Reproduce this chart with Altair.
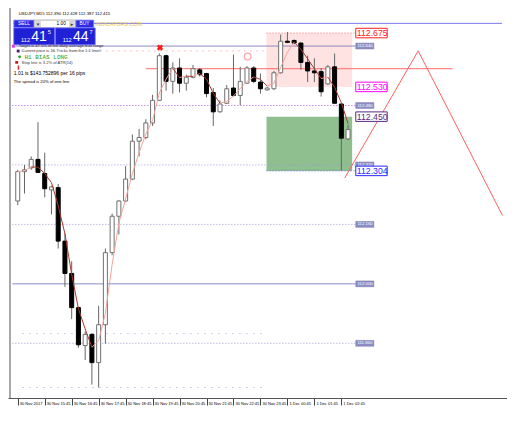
import altair as alt
import pandas as pd

# ---------------- data ----------------
opens = [112.223, 112.302, 112.312, 112.335, 112.297, 112.253, 112.259, 112.115, 112.028, 111.936,
         111.834, 111.864, 111.788, 111.890, 112.084, 112.182, 112.223, 112.282, 112.384, 112.394,
         112.433, 112.494, 112.614, 112.545, 112.581, 112.540, 112.556, 112.576, 112.566, 112.515,
         112.463, 112.486, 112.527, 112.507, 112.540, 112.581, 112.543, 112.522, 112.525, 112.568,
         112.653, 112.655, 112.648, 112.596, 112.573, 112.571, 112.538, 112.584, 112.484, 112.390]
highs = [112.307, 112.320, 112.343, 112.435, 112.353, 112.264, 112.269, 112.136, 112.061, 111.939,
         111.872, 111.867, 111.941, 112.095, 112.189, 112.225, 112.317, 112.402, 112.417, 112.443,
         112.509, 112.620, 112.617, 112.596, 112.607, 112.563, 112.589, 112.581, 112.568, 112.527,
         112.494, 112.535, 112.617, 112.584, 112.586, 112.586, 112.566, 112.530, 112.573, 112.671,
         112.678, 112.658, 112.650, 112.614, 112.607, 112.581, 112.589, 112.620, 112.486, 112.428]
lows = [112.212, 112.243, 112.307, 112.300, 112.233, 112.187, 112.095, 111.992, 111.905, 111.828,
        111.795, 111.729, 111.721, 111.839, 112.077, 112.133, 112.220, 112.279, 112.343, 112.389,
        112.425, 112.492, 112.520, 112.512, 112.515, 112.520, 112.553, 112.558, 112.502, 112.425,
        112.461, 112.484, 112.504, 112.481, 112.538, 112.540, 112.512, 112.520, 112.522, 112.566,
        112.648, 112.645, 112.576, 112.543, 112.543, 112.504, 112.536, 112.486, 112.305, 112.387]
closes = [112.302, 112.307, 112.335, 112.300, 112.256, 112.261, 112.115, 112.028, 111.936, 111.836,
          111.864, 111.788, 111.890, 112.084, 112.182, 112.223, 112.282, 112.384, 112.394, 112.433,
          112.494, 112.614, 112.545, 112.581, 112.540, 112.556, 112.579, 112.563, 112.512, 112.463,
          112.484, 112.525, 112.507, 112.545, 112.581, 112.545, 112.525, 112.527, 112.568, 112.653,
          112.650, 112.648, 112.596, 112.573, 112.568, 112.517, 112.584, 112.486, 112.392, 112.415]
bar_index = list(range(len(opens)))

time_tick_index = [0, 4, 8, 12, 16, 20, 24, 28, 32, 36, 40, 44, 48]
time_tick_labels = ["30 Nov 2017", "30 Nov 15:45", "30 Nov 16:45", "30 Nov 17:45",
                    "30 Nov 18:45", "30 Nov 19:45", "30 Nov 20:45", "30 Nov 21:45",
                    "30 Nov 22:45", "30 Nov 23:45", "1 Dec 00:45", "1 Dec 01:45", "1 Dec 02:45"]

grid_solid_levels = [112.640, 112.000]
grid_dotted_levels = [112.320, 112.160, 111.840]
grid_magenta_level = [112.480]
grid_levels = [112.640, 112.480, 112.320, 112.160, 112.000, 111.840]
grid_level_labels = ["112.640", "112.480", "112.320", "112.160", "112.000", "111.840"]

zone_levels = [112.675, 112.530, 112.450, 112.304]
zone_level_labels = ["112.675", "112.530", "112.450", "112.304"]
sell_zone = [112.675, 112.530]
buy_zone = [112.450, 112.304]
zone_span = [36.9, 49.6]

top_line_level = [112.701]
resistance_level = [112.579]
resistance_span = [19.0, 64.5]
prev_high_level = [112.627]
prev_high_span = [0.7, 36.9]
sparse_levels = [111.866, 111.721]
sparse_span = [0.7, 36.2]

zigzag_index = [48.5, 59.4, 71.9]
zigzag_price = [112.285, 112.627, 112.184]

signal_index = [21.1]
signal_price = [112.636]
alert_index = [34.1]
alert_price = [112.612]

quote_line = "USDJPY,M15  112.390 112.428 112.387 112.415"
lot_size = "1.00"
bid_parts = ["112", "41", "5"]
ask_parts = ["112", "44", "7"]
info_lines = ["Target is 47.5% of the daily average true range",
              "Current price is 16.7 ticks from the 1:1 level",
              "H1 BIAS LONG",
              "Stop line is 3.2% of ATR(14)",
              "1.01 is $143.752896 per 16 pips",
              "The spread is 20% of one line"]

# ---------------- geometry ----------------
FX = 499 / 515
FY = 400 / 421
W, HP = 499, 390
X_DOM = [-0.704, 71.83]
Y_DOM = [111.6928, 112.7424]
X_LEFT, LABEL_X, LABEL_X2, BIG_X2 = -0.8, 50.14, 52.82, 54.8

xs = alt.Scale(domain=X_DOM, nice=False, zero=False)
ys = alt.Scale(domain=Y_DOM, nice=False, zero=False)
label_expr = "[" + ",".join("'%s'" % s for s in time_tick_labels) + "][round(datum.value/4)]"
AX = alt.Axis(values=time_tick_index, labelExpr=label_expr, labelAlign="left",
              labelBaseline="middle", labelFontSize=4.0, labelFont="Liberation Sans",
              labelColor="#000000", tickSize=7, tickColor="#444444", domainColor="#555555",
              labelPadding=-2, labelOffset=1.5, grid=False, title=None,
              labelOverlap=False, labelBound=False, labelFlush=False)


def X(f):
    return alt.X(f, type="quantitative", scale=xs, axis=AX)


def Y(f):
    return alt.Y(f, type="quantitative", scale=ys, axis=None)


def XD(v):
    return alt.XDatum(v, type="quantitative", scale=xs, axis=AX)


ONE = pd.DataFrame({"k": [0]})


def px_rect(x1, y1, x2, y2, fill, stroke=None, sw=1.0):
    kw = dict(fill=fill, strokeWidth=0)
    if stroke:
        kw.update(stroke=stroke, strokeWidth=sw)
    return alt.Chart(ONE).mark_rect(**kw).encode(
        x=alt.value(x1 * FX), x2=alt.value(x2 * FX), y=alt.value(y1 * FY), y2=alt.value(y2 * FY))


def px_text(x, y, text, size, color, font="Liberation Sans", align="left", weight="normal"):
    return alt.Chart(ONE).mark_text(fontSize=size, color=color, font=font, align=align,
                                    baseline="middle", fontWeight=weight).encode(
        x=alt.value(x * FX), y=alt.value(y * FY), text=alt.value(text))


candles = pd.DataFrame({"idx": bar_index, "open": opens, "high": highs, "low": lows, "close": closes})
layers = []

# zones
sell_df = pd.DataFrame({"a": [zone_span[0]], "b": [zone_span[1]], "top": [sell_zone[0]], "bot": [sell_zone[1]]})
buy_df = pd.DataFrame({"a": [zone_span[0]], "b": [zone_span[1]], "top": [buy_zone[0]], "bot": [buy_zone[1]]})
layers.append(alt.Chart(sell_df).mark_rect(fill="#ffe3e3").encode(
    x=X("a"), x2=alt.X2("b"), y=Y("top"), y2=alt.Y2("bot")))
layers.append(alt.Chart(buy_df).mark_rect(fill="#8fbf8f").encode(
    x=X("a"), x2=alt.X2("b"), y=Y("top"), y2=alt.Y2("bot")))

# horizontal lines
layers.append(alt.Chart(pd.DataFrame({"p": top_line_level})).mark_rule(color="#7c7cf0", strokeWidth=1).encode(
    x=XD(X_DOM[0]), x2=alt.X2Datum(X_DOM[1]), y=Y("p")))
layers.append(alt.Chart(pd.DataFrame({"p": grid_solid_levels})).mark_rule(color="#8a8ac2", strokeWidth=1).encode(
    x=XD(X_LEFT), x2=alt.X2Datum(LABEL_X), y=Y("p")))
layers.append(alt.Chart(pd.DataFrame({"p": grid_dotted_levels})).mark_rule(
    color="#9c9cd8", strokeWidth=1, strokeDash=[1, 2]).encode(
    x=XD(X_LEFT), x2=alt.X2Datum(LABEL_X), y=Y("p")))
layers.append(alt.Chart(pd.DataFrame({"p": grid_magenta_level})).mark_rule(
    color="#b45ad8", strokeWidth=1, strokeDash=[1, 2]).encode(
    x=XD(X_LEFT), x2=alt.X2Datum(LABEL_X), y=Y("p")))
layers.append(alt.Chart(pd.DataFrame({"p": prev_high_level})).mark_rule(
    color="#ff8a8a", strokeWidth=1, strokeDash=[1, 5]).encode(
    x=XD(prev_high_span[0]), x2=alt.X2Datum(prev_high_span[1]), y=Y("p")))
layers.append(alt.Chart(pd.DataFrame({"p": sparse_levels})).mark_rule(
    color="#9c9ce0", strokeWidth=1, strokeDash=[1, 6]).encode(
    x=XD(sparse_span[0]), x2=alt.X2Datum(sparse_span[1]), y=Y("p")))
layers.append(alt.Chart(pd.DataFrame({"p": [sell_zone[0]]})).mark_rule(
    color="#ff7070", strokeWidth=1, strokeDash=[1, 2]).encode(
    x=XD(zone_span[0]), x2=alt.X2Datum(LABEL_X), y=Y("p")))
layers.append(alt.Chart(pd.DataFrame({"p": [buy_zone[1]]})).mark_rule(
    color="#6a6aff", strokeWidth=1, strokeDash=[1, 2]).encode(
    x=XD(zone_span[0]), x2=alt.X2Datum(LABEL_X), y=Y("p")))
layers.append(alt.Chart(pd.DataFrame({"p": resistance_level})).mark_rule(color="#ff6a6a", strokeWidth=1).encode(
    x=XD(resistance_span[0]), x2=alt.X2Datum(resistance_span[1]), y=Y("p")))

# candles
layers.append(alt.Chart(candles).mark_rule(color="#666666", strokeWidth=1).encode(
    x=X("idx"), y=Y("low"), y2=alt.Y2("high")))
layers.append(alt.Chart(candles).mark_bar(size=4, strokeWidth=1).encode(
    x=X("idx"), y=Y("open"), y2=alt.Y2("close"),
    fill=alt.condition("datum.close >= datum.open", alt.value("#ffffff"), alt.value("#000000")),
    stroke=alt.condition("datum.close >= datum.open", alt.value("#707070"), alt.value("#000000"))))

# moving average (computed by Vega-Lite from the closes), coloured by slope
layers.append(alt.Chart(candles).transform_window(
    ma="mean(close)", frame=[-2, 0], sort=[alt.SortField("idx")]
).transform_window(
    prev_ma="lag(ma)", sort=[alt.SortField("idx")]
).transform_filter("isValid(datum.prev_ma)").transform_calculate(
    pidx="datum.idx - 1"
).mark_rule(strokeWidth=1).encode(
    x=X("pidx"), x2=alt.X2("idx"), y=Y("prev_ma"), y2=alt.Y2("ma"),
    color=alt.condition("datum.ma >= datum.prev_ma", alt.value("#f4a49c"), alt.value("#a83a30"))))

# zigzag
layers.append(alt.Chart(pd.DataFrame({"i": zigzag_index, "p": zigzag_price})).mark_line(
    color="#ff6060", strokeWidth=1).encode(x=X("i"), y=Y("p")))

# signal marks
layers.append(alt.Chart(pd.DataFrame({"i": signal_index, "p": signal_price})).mark_point(
    shape="cross", angle=45, filled=True, size=40, color="#ff1a1a", opacity=1).encode(x=X("i"), y=Y("p")))
layers.append(alt.Chart(pd.DataFrame({"i": alert_index, "p": alert_price})).mark_point(
    shape="circle", filled=False, size=45, color="#ff8080", strokeWidth=1.2).encode(x=X("i"), y=Y("p")))

# small level labels
lvl = pd.DataFrame({"p": grid_levels, "t": grid_level_labels})
layers.append(alt.Chart(lvl).transform_calculate(top="datum.p + 0.0078", bot="datum.p - 0.0078").mark_rect(
    fill="#8e8ec4", stroke="#7070a8", strokeWidth=0.5).encode(
    x=XD(LABEL_X), x2=alt.X2Datum(LABEL_X2), y=Y("top"), y2=alt.Y2("bot")))
layers.append(alt.Chart(lvl).mark_text(fontSize=4.3, color="#ffffff", align="left", baseline="middle",
                                       font="Liberation Sans").encode(
    x=XD(LABEL_X + 0.25), y=Y("p"), text="t:N"))

# zone price labels
zone_colors = ["#ff2020", "#ff00ff", "#5a2a80", "#2a2aff"]
for p, t, c in zip(zone_levels, zone_level_labels, zone_colors):
    d = pd.DataFrame({"p": [p], "t": [t]})
    layers.append(alt.Chart(d).transform_calculate(top="datum.p + 0.0128", bot="datum.p - 0.0128").mark_rect(
        fill="#ffffff", stroke=c, strokeWidth=1).encode(
        x=XD(LABEL_X), x2=alt.X2Datum(BIG_X2), y=Y("top"), y2=alt.Y2("bot")))
    layers.append(alt.Chart(d).mark_text(fontSize=8.7, color=c, align="left", baseline="middle",
                                         font="Liberation Sans").encode(
        x=XD(LABEL_X + 0.15), y=Y("p"), text="t:N"))

# window frame at left
layers.append(alt.Chart(ONE).mark_rule(color="#a8a8a8", strokeWidth=2).encode(
    x=alt.value(2), y=alt.value(0), y2=alt.value(HP)))

# trading panel (screen overlay)
layers.append(px_text(11, 6.5, quote_line, 4.3, "#000000"))
layers.append(px_rect(6, 12.7, 27, 20.7, "#2c2ce0", "#8c8cff", 0.8))
layers.append(px_text(16.5, 16.8, "SELL", 4.8, "#ffffff", align="center"))
layers.append(px_rect(27, 12.7, 70, 20.7, "#ffffff", "#a0a0a0", 0.8))
layers.append(px_rect(28, 13.5, 34, 20, "#d8d8d8"))
layers.append(px_rect(63, 13.5, 69, 20, "#d8d8d8"))
layers.append(px_text(31, 16.8, "\u25be", 5, "#333333", font="DejaVu Sans", align="center"))
layers.append(px_text(66, 16.8, "\u25b8", 5, "#333333", font="DejaVu Sans", align="center"))
layers.append(px_text(55, 16.8, lot_size, 4.8, "#000000", align="center"))
layers.append(px_rect(70, 12.7, 88.5, 20.7, "#2c2ce0", "#8c8cff", 0.8))
layers.append(px_text(79, 16.8, "BUY", 4.8, "#ffffff", align="center"))
layers.append(px_text(90, 16.5, "INDICATORS.COM", 5.4, "#e8c040"))
for x0, x1, parts in [(6, 48, bid_parts), (49, 90, ask_parts)]:
    layers.append(px_rect(x0, 21, x1, 38.7, "#2020d6", "#6a6aff", 0.8))
    layers.append(px_text(x0 + 7.5, 33.5, parts[0], 5.6, "#ffffff"))
    layers.append(px_text(x0 + 18, 30.0, parts[1], 14, "#ffffff"))
    layers.append(px_text(x0 + 35, 24.8, parts[2], 5.6, "#ffffff"))

layers.append(px_rect(4, 38.8, 7, 41.8, "#e040e0"))
layers.append(px_text(11, 40.3, info_lines[0], 4.1, "#3a2a3a"))
layers.append(px_rect(9, 43.8, 12, 46.8, "#502070"))
layers.append(px_text(14, 45.4, info_lines[1], 4.1, "#3a3a3a"))
layers.append(alt.Chart(ONE).mark_point(shape="circle", filled=True, size=8, color="#20a020", opacity=1).encode(
    x=alt.value(12 * FX), y=alt.value(51.4 * FY)))
layers.append(px_text(17, 51.4, info_lines[2], 6.0, "#22a022", font="Liberation Mono"))
layers.append(px_rect(7.5, 55.8, 10.5, 58.8, "#c02020"))
layers.append(px_text(14, 57.5, info_lines[3], 4.1, "#3a3a3a"))
layers.append(px_rect(10, 60.5, 11.5, 65, "#e03030"))
layers.append(px_text(6, 67.9, info_lines[4], 5.0, "#000000"))
layers.append(px_text(6, 78.3, info_lines[5], 4.2, "#000000"))

chart = alt.layer(*layers).properties(
    width=W, height=HP,
    padding={"left": 0, "top": 0, "right": 0, "bottom": 10},
    autosize=alt.AutoSizeParams(type="none"),
    background="#ffffff",
).configure_view(strokeWidth=0)

chart.save("out.html", embed_options={"renderer": "svg", "actions": False})
